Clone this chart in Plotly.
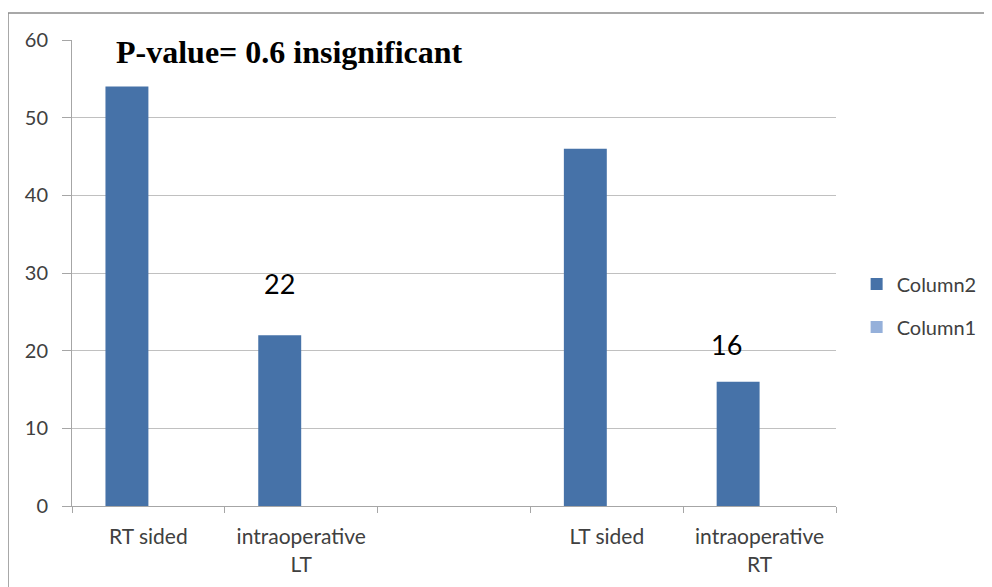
import plotly.graph_objects as go

categories = ["RT sided", "intraoperative<br>LT", " ", "LT sided", "intraoperative<br>RT"]
column2 = [54, 22, None, 46, 16]
column1 = [None, None, None, None, None]
label_cats = ["intraoperative<br>LT", "intraoperative<br>RT"]
label_vals = [22, 16]
label_yshift = [52, 37]
label_xshift = [-22, -33]
title_text = "P-value= 0.6 insignificant"

FONT = "Lato, Open Sans, sans-serif"
fig = go.Figure()
fig.add_trace(go.Bar(x=categories, y=column2, name="Column2",
                     marker=dict(color="#4672A8", line=dict(width=0)), legendgroup="a"))
fig.add_trace(go.Bar(x=categories, y=column1, name="Column1",
                     marker=dict(color="#95B0DA", line=dict(width=0)), legendgroup="b"))

annotations = [dict(text=title_text, xref="paper", yref="paper", x=0.285, y=0.974,
                    xanchor="center", yanchor="middle", showarrow=False,
                    font=dict(family="Liberation Serif, Times New Roman, serif", size=32,
                              color="#000000", weight="bold"))]
for c, v, ys, xs in zip(label_cats, label_vals, label_yshift, label_xshift):
    annotations.append(dict(text=str(v), x=c, y=v, xref="x", yref="y", showarrow=False,
                            yanchor="middle", xanchor="center", yshift=ys, xshift=xs,
                            font=dict(family=FONT, size=27, color="#000000")))

fig.update_layout(
    width=992, height=587,
    margin=dict(l=64, r=164, t=32, b=89, autoexpand=False),
    paper_bgcolor="white", plot_bgcolor="white",
    barmode="group", bargap=0.438, bargroupgap=0,
    font=dict(family=FONT, size=20, color="#404040"),
    showlegend=True,
    legend=dict(x=1.027, y=0.43, xanchor="left", yanchor="middle",
                font=dict(size=20, color="#404040"), tracegroupgap=14,
                itemwidth=30),
    annotations=annotations,
    shapes=[dict(type="rect", xref="paper", yref="paper",
                 x0=(0 - 64) / 764, x1=(1000 - 64) / 764,
                 y0=-0.3, y1=1 + 27 / 466,
                 line=dict(color="#8c8c8c", width=1.5), layer="below")],
)
fig.update_xaxes(type="category", tickson="boundaries", ticks="outside", ticklen=6,
                 tickcolor="#a6a6a6", showline=True, linecolor="#a6a6a6", linewidth=1,
                 showgrid=False, tickfont=dict(size=21, color="#404040"),
                 ticklabelstandoff=12)
fig.update_yaxes(range=[0, 60], dtick=10, ticks="outside", ticklen=9, tickcolor="#a6a6a6",
                 showline=True, linecolor="#a6a6a6", linewidth=1, showgrid=True,
                 gridcolor="#c0c0c0", gridwidth=1, zeroline=False,
                 tickfont=dict(size=20, color="#404040"), ticklabelstandoff=10)

fig.write_html("out.html")
